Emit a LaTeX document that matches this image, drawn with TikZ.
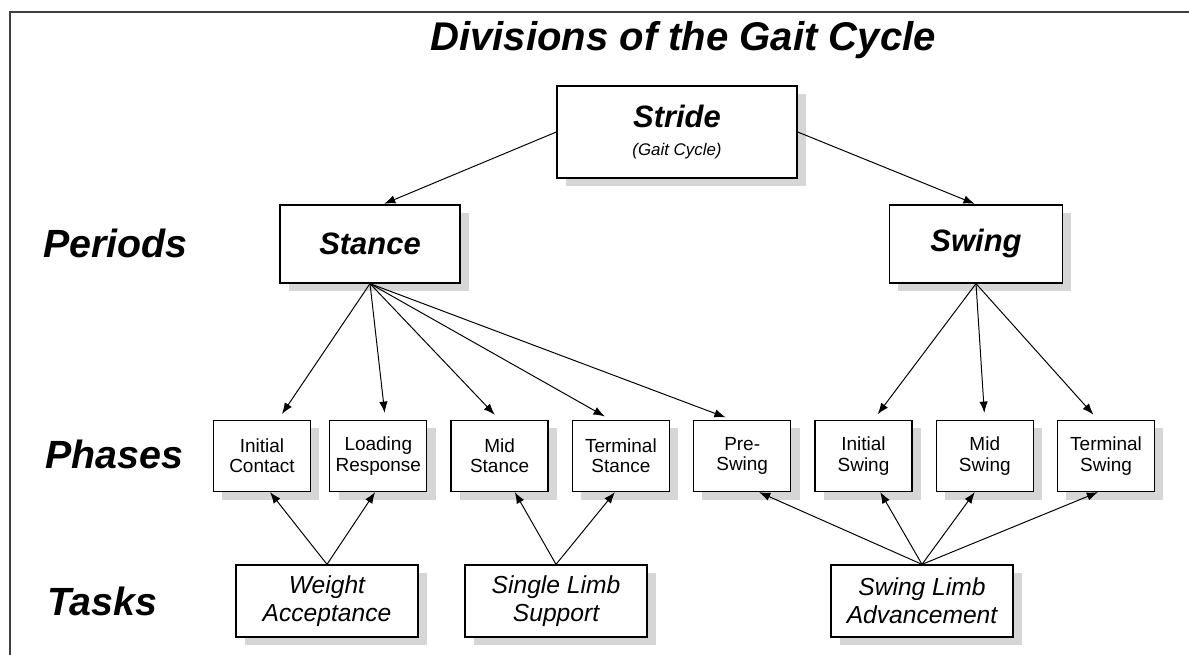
\documentclass[tikz,border=0pt]{standalone}
\usepackage{fontspec}
\setmainfont{Liberation Sans}
\usetikzlibrary{positioning,arrows.meta,shadows}

\begin{document}
\begin{tikzpicture}[x=0.025cm, y=-0.025cm,
    box/.style={draw, line width=0.9pt, fill=white, inner sep=2pt, align=center,
                drop shadow={shadow xshift=0.22cm, shadow yshift=-0.2cm,
                             fill=black!16, opacity=1}},
    topbox/.style={box, minimum width=6cm, minimum height=2.3cm,
                   font=\fontsize{22}{20}\selectfont\bfseries\itshape},
    period/.style={box, minimum width=4.5cm, minimum height=1.95cm,
                   font=\fontsize{22}{26}\selectfont\bfseries\itshape},
    phase/.style={box, minimum width=2.425cm, minimum height=1.775cm,
                  font=\fontsize{13.5}{14.5}\selectfont},
    task/.style={box, minimum width=4.55cm, minimum height=1.8cm,
                 font=\fontsize{17.5}{20}\selectfont\itshape},
    rowlabel/.style={anchor=base west, inner sep=0pt,
                     font=\fontsize{28}{32}\selectfont\bfseries\itshape},
    arr/.style={-{Latex[length=8pt,width=6pt]}, line width=0.7pt},
    frame/.style={line width=1.2pt, draw=black!75}]

    \useasboundingbox (0,0) rectangle (1189,655);
    \draw[frame] (1189,12) -- (10,12) -- (10,655);

    % title and row labels
    \node[anchor=base, font=\fontsize{28.5}{34}\selectfont\bfseries\itshape]
        (title) at (683,51) {Divisions of the Gait Cycle};
    \node[rowlabel] (periods) at (43,258) {Periods};
    \node[rowlabel] (phases) at (45,468) {Phases};
    \node[rowlabel] (tasks) at (47,615) {Tasks};

    % stride and periods
    \node[topbox] (stride) at (677,132)
        {Stride\\{\fontsize{12}{14}\selectfont\mdseries\itshape (Gait Cycle)}};
    \node[period] (stance) at (370,244) {Stance};
    \node[period, minimum width=4.325cm] (swing) at (976,244) {Swing};

    % phases
    \node[phase] (ic) at (262,456) {Initial\\Contact};
    \node[phase, right=0.45cm of ic] (lr) {Loading\\Response};
    \node[phase, right=0.575cm of lr] (ms) {Mid\\Stance};
    \node[phase, right=0.575cm of ms] (ts) {Terminal\\Stance};
    \node[phase, right=0.575cm of ts] (ps) {Pre-\\Swing};
    \node[phase, right=0.575cm of ps] (is) {Initial\\Swing};
    \node[phase, right=0.575cm of is] (msw) {Mid\\Swing};
    \node[phase, right=0.575cm of msw] (tsw) {Terminal\\Swing};

    % tasks
    \node[task] (wa) at (327,601) {Weight\\Acceptance};
    \node[task] (sls) at (556,601) {Single Limb\\Support};
    \node[task] (sla) at (922,601) {Swing Limb\\Advancement};

    % stride -> periods
    \draw[arr, shorten >=1pt] (stride.west) -- ([xshift=0.32cm]stance.north);
    \draw[arr, shorten >=1pt] (stride.east) -- (swing.north);

    % periods -> phases
    \draw[arr, shorten >=5pt] (stance.south) -- ([xshift=0.4cm]ic.north);
    \draw[arr, shorten >=5pt] (stance.south) -- ([xshift=0.18cm]lr.north);
    \draw[arr, shorten >=5pt] (stance.south) -- (ms.north);
    \draw[arr, shorten >=5pt] (stance.south) -- ([xshift=-0.25cm]ts.north);
    \draw[arr, shorten >=5pt] (stance.south) -- ([xshift=-0.25cm]ps.north);
    \draw[arr, shorten >=5pt] (swing.south) -- ([xshift=0.25cm]is.north);
    \draw[arr, shorten >=5pt] (swing.south) -- (msw.north);
    \draw[arr, shorten >=5pt] (swing.south) -- ([xshift=-0.2cm]tsw.north);

    % tasks -> phases
    \draw[arr] (wa.north) -- ([xshift=0.2cm]ic.south);
    \draw[arr] (wa.north) -- ([xshift=-0.08cm]lr.south);
    \draw[arr] (sls.north) -- ([xshift=0.38cm]ms.south);
    \draw[arr] (sls.north) -- ([xshift=-0.15cm]ts.south);
    \draw[arr] (sla.north) -- ([xshift=0.42cm]ps.south);
    \draw[arr] (sla.north) -- ([xshift=0.42cm]is.south);
    \draw[arr] (sla.north) -- ([xshift=-0.25cm]msw.south);
    \draw[arr] (sla.north) -- ([xshift=-0.2cm]tsw.south);
\end{tikzpicture}
\end{document}
